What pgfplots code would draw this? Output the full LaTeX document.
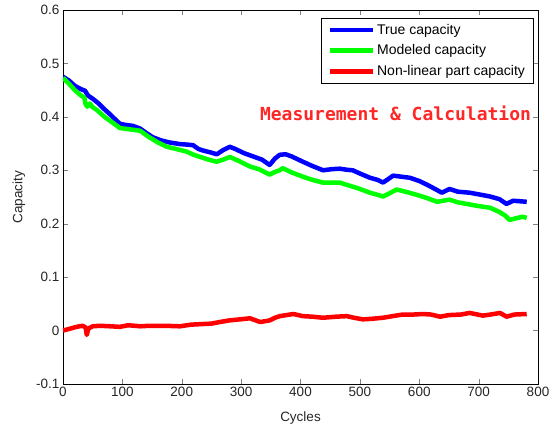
\documentclass[border=0pt]{standalone}
\usepackage{pgfplots}
\pgfplotsset{compat=1.18}
\usepackage{fontspec}
\setmainfont{Liberation Sans}
\newfontfamily\monob{DejaVu Sans Mono}
\begin{document}
\begin{tikzpicture}
\path[use as bounding box] (-63pt,-44pt) rectangle (490pt,384pt);
\begin{axis}[
  at={(0pt,0pt)}, anchor=south west,
  scale only axis, width=475pt, height=374pt,
  xmin=0, xmax=800, ymin=-0.1, ymax=0.6,
  xtick={0,100,...,800},
  ytick={-0.1,0,0.1,0.2,0.3,0.4,0.5,0.6},
  tick align=inside,
  major tick length=5pt,
  /pgf/number format/assume math mode=true,
  tick label style={font=\fontsize{13.5}{15}\selectfont, text=black!85},
  label style={font=\fontsize{13.5}{15}\selectfont, text=black!85},
  xlabel={Cycles}, ylabel={Capacity},
  xlabel style={at={(axis description cs:0.5,0)}, anchor=center, yshift=-34pt},
  ylabel style={at={(axis description cs:0,0.5)}, anchor=center, yshift=44pt},
  axis line style={black, line width=0.8pt},
  legend style={at={(0.99,0.979)}, anchor=north east, draw=black, line width=0.6pt,
    font=\fontsize{14}{16}\selectfont, row sep=5pt, inner xsep=6pt, inner ysep=4pt},
  legend cell align=left,
  legend image code/.code={\draw[#1, line width=4.5pt] (0pt,0pt) -- (43pt,0pt);},
  every axis plot/.append style={line width=4.5pt, line join=round},
]
\addplot[color=blue] coordinates {
(0,0.475)(10,0.468)(20,0.458)(30,0.452)(37,0.449)(42,0.440)(50,0.434)(60,0.425)
(70,0.414)(80,0.404)(90,0.393)(96,0.387)(105,0.385)(118,0.383)(130,0.378)(140,0.370)
(151,0.362)(165,0.356)(180,0.352)(197,0.349)(210,0.348)(219,0.347)(228,0.340)(236,0.337)
(250,0.333)(259,0.330)(270,0.338)(281,0.344)(290,0.340)(305,0.332)(320,0.326)(335,0.320)
(348,0.310)(357,0.322)(365,0.329)(375,0.330)(385,0.326)(404,0.316)(420,0.308)(438,0.300)
(452,0.302)(466,0.303)(478,0.301)(488,0.300)(500,0.294)(517,0.286)(530,0.282)(539,0.277)
(547,0.283)(556,0.290)(570,0.288)(584,0.286)(600,0.280)(613,0.273)(625,0.266)(638,0.258)
(651,0.265)(665,0.260)(685,0.258)(700,0.255)(719,0.251)(735,0.246)(747,0.237)(758,0.243)
(770,0.242)(781,0.241)
};
\addlegendentry{True capacity}
\addplot[color=green] coordinates {
(0,0.473)(10,0.462)(20,0.450)(29,0.441)(36,0.436)(38,0.424)(41,0.419)(45,0.425)
(50,0.418)(57,0.413)(70,0.400)(85,0.388)(96,0.379)(110,0.377)(130,0.374)(145,0.362)
(160,0.352)(175,0.344)(190,0.340)(208,0.335)(220,0.329)(231,0.325)(245,0.320)(259,0.316)
(270,0.320)(281,0.325)(295,0.318)(315,0.307)(330,0.302)(348,0.292)(357,0.297)(365,0.300)
(370,0.304)(385,0.296)(404,0.288)(420,0.282)(438,0.277)(452,0.277)(466,0.277)(480,0.272)
(495,0.267)(505,0.263)(517,0.258)(530,0.254)(539,0.251)(550,0.257)(562,0.264)(580,0.259)
(596,0.254)(613,0.248)(630,0.241)(640,0.243)(651,0.245)(665,0.240)(685,0.236)(700,0.233)
(719,0.230)(735,0.222)(745,0.215)(752,0.207)(762,0.210)(774,0.213)(781,0.211)
};
\addlegendentry{Modeled capacity}
\addplot[color=red] coordinates {
(0,0.000)(10,0.003)(23,0.007)(33,0.009)(38,0.006)(40,-0.008)(43,0.004)(50,0.008)
(62,0.009)(80,0.008)(96,0.007)(110,0.010)(130,0.008)(146,0.009)(170,0.009)(197,0.008)
(215,0.011)(231,0.012)(250,0.013)(264,0.016)(280,0.019)(298,0.021)(315,0.023)(332,0.016)
(348,0.019)(357,0.024)(365,0.027)(388,0.031)(404,0.027)(420,0.026)(438,0.024)(460,0.026)
(478,0.027)(490,0.024)(505,0.021)(520,0.022)(539,0.024)(555,0.027)(572,0.030)(590,0.030)
(606,0.031)(620,0.030)(635,0.026)(650,0.029)(670,0.030)(685,0.033)(707,0.028)(720,0.030)
(736,0.033)(747,0.026)(760,0.030)(781,0.031)
};
\addlegendentry{Non-linear part capacity}
\node[text=red!85!white, font=\monob\bfseries\fontsize{18}{20}\selectfont] at (axis cs:560,0.406) {Measurement \& Calculation};
\end{axis}
\end{tikzpicture}
\end{document}
